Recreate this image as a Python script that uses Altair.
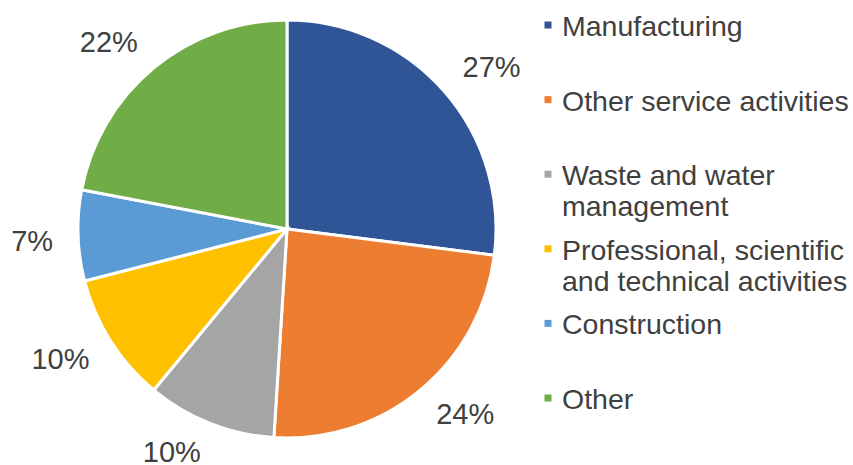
import altair as alt
import math
import pandas as pd

categories = ["Manufacturing", "Other service activities", "Waste and water management",
              "Professional, scientific and technical activities", "Construction", "Other"]
legend_labels = ["Manufacturing", "Other service activities", "Waste and water\nmanagement",
                 "Professional, scientific\nand technical activities", "Construction", "Other"]
values = [27, 24, 10, 10, 7, 22]
colors = ["#2F5597", "#ED7D31", "#A5A5A5", "#FFC000", "#5B9BD5", "#70AD47"]

df = pd.DataFrame({
    "cat": categories,
    "legend": legend_labels,
    "value": values,
    "idx": list(range(len(categories))),
    "label": [f"{v}%" for v in values],
})

FONT = "Liberation Sans"
TXT = "#404040"

theta_scale = alt.Scale(domain=[0, 100], range=[0, 2 * math.pi])

color = alt.Color("cat:N", sort=categories,
                  scale=alt.Scale(domain=categories, range=colors), legend=None)
order = alt.Order("idx:Q")

base = alt.Chart(df)

arcs = base.mark_arc(outerRadius=209, stroke="white", strokeWidth=3).encode(
    theta=alt.Theta("value:Q", stack=True, scale=theta_scale), color=color, order=order)

lab_base = base.transform_window(
    cum="sum(value)", sort=[alt.SortField("idx")], frame=[None, 0]
).transform_calculate(mid="datum.cum - datum.value / 2")

lab_theta = alt.Theta("mid:Q", stack=None, scale=theta_scale)

label_layers = []
for side_expr, align in [("datum.mid <= 50", "left"), ("datum.mid > 50", "right")]:
    for half_expr, dy in [("(datum.mid < 25 || datum.mid > 75)", -6),
                          ("(datum.mid >= 25 && datum.mid <= 75)", 6)]:
        label_layers.append(
            lab_base.transform_filter(f"{side_expr} && {half_expr}").mark_text(
                radius=234, font=FONT, fontSize=29, color=TXT, align=align,
                baseline="middle", dy=dy
            ).encode(theta=lab_theta, text="label:N")
        )

ypos = alt.Y("cat:N", sort=categories, axis=None,
             scale=alt.Scale(type="point", range=[25, 398], padding=0))

leg_sq = base.mark_square(size=49, opacity=1).encode(
    x=alt.value(548), y=ypos, color=color)

leg_txt = base.mark_text(align="left", baseline="alphabetic", dy=11, font=FONT,
                         fontSize=28.5, color=TXT, lineBreak="\n", lineHeight=31).encode(
    x=alt.value(562), y=ypos, text="legend:N")

chart = alt.layer(arcs, *label_layers, leg_sq, leg_txt).properties(
    width=574, height=458,
    autosize=alt.AutoSizeParams(type="none"),
    padding={"left": 0, "top": 0, "right": 279, "bottom": 7},
    background="white",
).configure_view(stroke=None)

chart.save("out.html", embed_options={"renderer": "svg", "actions": False})
